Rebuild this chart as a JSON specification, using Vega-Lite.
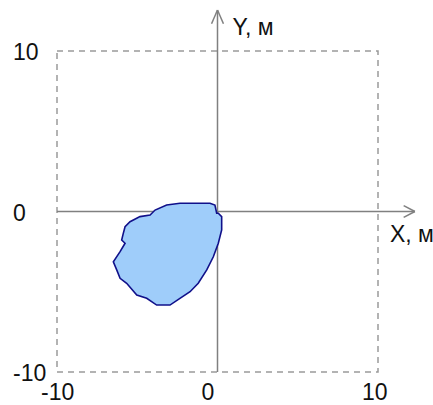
{
  "$schema": "https://vega.github.io/schema/vega-lite/v6.json",
  "width": 321,
  "height": 321,
  "autosize": {"type": "none"},
  "padding": {"left": 57, "top": 51, "right": 55, "bottom": 33},
  "background": "white",
  "config": {"view": {"stroke": null}, "text": {"font": "Liberation Sans", "fontSize": 23, "color": "#111111"}},
  "datasets": {
    "blob": [
      {"i": 0, "x": -0.05, "y": -0.11},
      {"i": 1, "x": -0.16, "y": 0.40},
      {"i": 2, "x": -0.47, "y": 0.51},
      {"i": 3, "x": -2.34, "y": 0.51},
      {"i": 4, "x": -3.17, "y": 0.40},
      {"i": 5, "x": -3.89, "y": 0.09},
      {"i": 6, "x": -4.20, "y": -0.22},
      {"i": 7, "x": -4.83, "y": -0.32},
      {"i": 8, "x": -5.45, "y": -0.64},
      {"i": 9, "x": -5.76, "y": -0.95},
      {"i": 10, "x": -5.87, "y": -1.36},
      {"i": 11, "x": -5.97, "y": -1.78},
      {"i": 12, "x": -5.76, "y": -1.98},
      {"i": 13, "x": -6.07, "y": -2.50},
      {"i": 14, "x": -6.49, "y": -3.13},
      {"i": 15, "x": -6.28, "y": -3.64},
      {"i": 16, "x": -6.07, "y": -4.16},
      {"i": 17, "x": -5.66, "y": -4.47},
      {"i": 18, "x": -5.03, "y": -5.20},
      {"i": 19, "x": -4.41, "y": -5.41},
      {"i": 20, "x": -3.79, "y": -5.83},
      {"i": 21, "x": -2.96, "y": -5.83},
      {"i": 22, "x": -2.34, "y": -5.41},
      {"i": 23, "x": -1.71, "y": -5.00},
      {"i": 24, "x": -1.20, "y": -4.47},
      {"i": 25, "x": -0.67, "y": -3.64},
      {"i": 26, "x": -0.26, "y": -2.82},
      {"i": 27, "x": 0.05, "y": -1.98},
      {"i": 28, "x": 0.26, "y": -1.15},
      {"i": 29, "x": 0.26, "y": -0.32},
      {"i": 30, "x": 0.05, "y": -0.11}
    ],
    "axes": [
      {"x1": 0, "y1": -10, "x2": 0, "y2": 12.55},
      {"x1": -10, "y1": 0, "x2": 12.3, "y2": 0},
      {"x1": 0, "y1": 12.55, "x2": -0.37, "y2": 11.7},
      {"x1": 0, "y1": 12.55, "x2": 0.37, "y2": 11.7},
      {"x1": 12.3, "y1": 0, "x2": 11.6, "y2": 0.37},
      {"x1": 12.3, "y1": 0, "x2": 11.6, "y2": -0.37}
    ],
    "ticks": [{"v": -10}, {"v": 0}, {"v": 10}]
  },
  "encoding": {
    "x": {"type": "quantitative", "scale": {"domain": [-10, 10], "nice": false, "zero": false}, "axis": null},
    "y": {"type": "quantitative", "scale": {"domain": [-10, 10], "nice": false, "zero": false}, "axis": null}
  },
  "layer": [
    {
      "data": {"values": [{"a": -10, "b": 10}]},
      "mark": {"type": "rect", "fill": null, "fillOpacity": 0, "stroke": "#9a9a9a", "strokeWidth": 1.5, "strokeDash": [6, 5]},
      "encoding": {"x": {"field": "a"}, "x2": {"field": "b"}, "y": {"field": "a"}, "y2": {"field": "b"}}
    },
    {
      "data": {"name": "axes"},
      "mark": {"type": "rule", "color": "#808080", "strokeWidth": 1.5},
      "encoding": {"x": {"field": "x1"}, "y": {"field": "y1"}, "x2": {"field": "x2"}, "y2": {"field": "y2"}}
    },
    {
      "data": {"name": "blob"},
      "mark": {"type": "line", "fill": "#9fcdfa", "stroke": "#10108a", "strokeWidth": 1.6, "interpolate": "linear-closed"},
      "encoding": {"x": {"field": "x"}, "y": {"field": "y"}, "order": {"field": "i"}}
    },
    {
      "data": {"name": "ticks"},
      "mark": {"type": "text", "align": "left", "baseline": "middle", "dx": -44, "dy": 2},
      "encoding": {"x": {"datum": -10}, "y": {"field": "v"}, "text": {"field": "v"}}
    },
    {
      "data": {"name": "ticks"},
      "mark": {"type": "text", "align": "left", "baseline": "alphabetic", "dx": -16, "dy": 28},
      "encoding": {"x": {"field": "v"}, "y": {"datum": -10}, "text": {"field": "v"}}
    },
    {
      "data": {"values": [{"t": "Y, м", "x": 0, "y": 12.55}]},
      "mark": {"type": "text", "align": "left", "baseline": "alphabetic", "dx": 15, "dy": 25},
      "encoding": {"x": {"field": "x"}, "y": {"field": "y"}, "text": {"field": "t"}}
    },
    {
      "data": {"values": [{"t": "X, м", "x": 12.3, "y": 0}]},
      "mark": {"type": "text", "align": "left", "baseline": "alphabetic", "dx": -25, "dy": 30},
      "encoding": {"x": {"field": "x"}, "y": {"field": "y"}, "text": {"field": "t"}}
    }
  ]
}
